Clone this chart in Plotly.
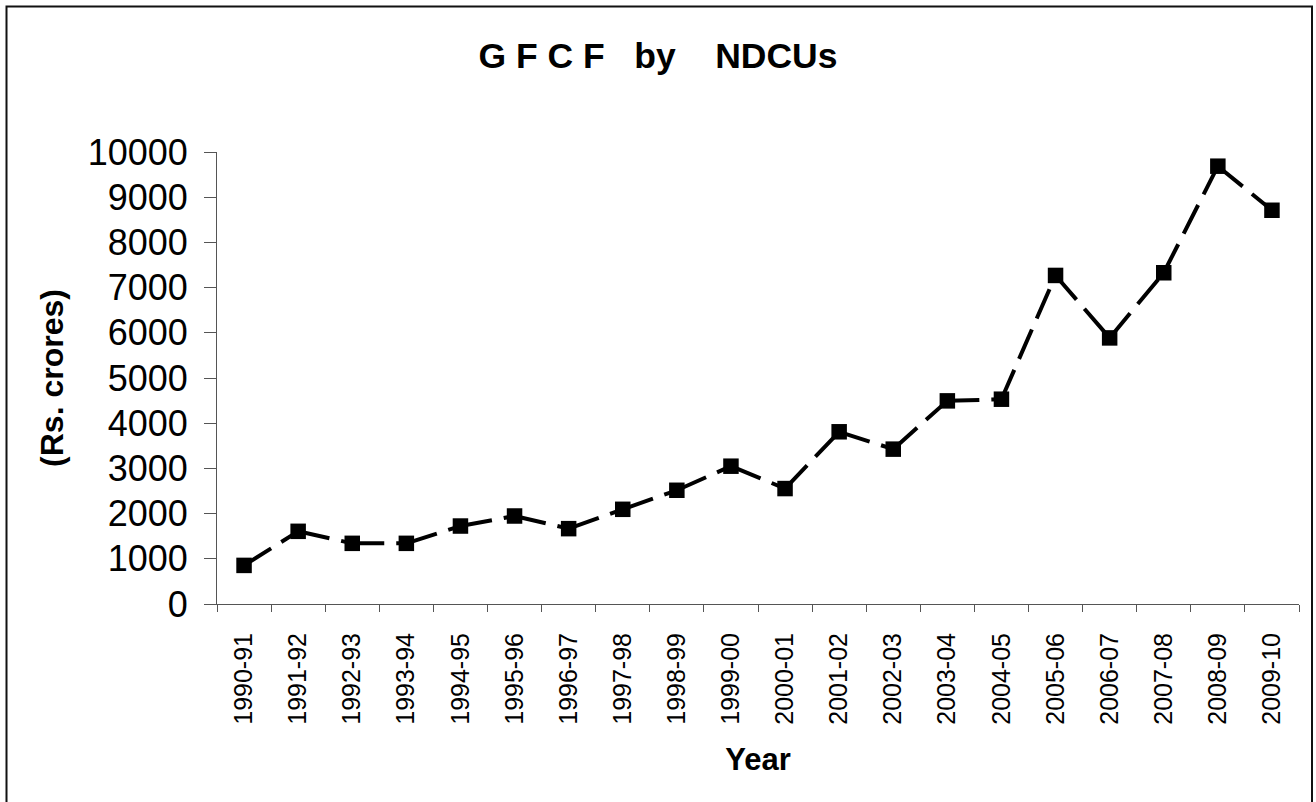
import plotly.graph_objects as go

# ---- data ----
years = ["1990-91", "1991-92", "1992-93", "1993-94", "1994-95", "1995-96",
         "1996-97", "1997-98", "1998-99", "1999-00", "2000-01", "2001-02",
         "2002-03", "2003-04", "2004-05", "2005-06", "2006-07", "2007-08",
         "2008-09", "2009-10"]
gfcf = [854, 1608, 1342, 1342, 1725, 1947, 1667, 2095, 2516, 3049,
        2554, 3810, 3426, 4494, 4531, 7269, 5887, 7328, 9686, 8711]
y_ticks = [0, 1000, 2000, 3000, 4000, 5000, 6000, 7000, 8000, 9000, 10000]

title_text = "G F C F   by    NDCUs"
x_title = "Year"
y_title = "(Rs. crores)"

FONT = "Liberation Sans, Arial, sans-serif"

fig = go.Figure()

# dashed line drawn segment by segment (dash pattern restarts at each point)
for i in range(len(years) - 1):
    fig.add_trace(go.Scatter(
        x=years[i:i + 2], y=gfcf[i:i + 2], mode="lines",
        line=dict(color="black", width=4, dash="32px,12px"),
        hoverinfo="skip", showlegend=False))

fig.add_trace(go.Scatter(
    x=years, y=gfcf, mode="markers",
    marker=dict(symbol="square", size=15.5, color="black"),
    showlegend=False, name="GFCF"))

fig.update_layout(
    width=1316, height=802,
    margin=dict(l=217, r=17, t=152, b=198),
    paper_bgcolor="white", plot_bgcolor="white",
    font=dict(family=FONT, color="black"),
    title=dict(text=f"<b>{title_text}</b>", x=0.5, xanchor="center",
               y=1 - 56 / 802, yanchor="middle", yref="container",
               font=dict(size=35.5, family=FONT, color="black")),
    showlegend=False,
)

fig.update_xaxes(
    type="category", categoryorder="array", categoryarray=years,
    range=[-0.5, len(years) - 0.5],
    showgrid=False, zeroline=False,
    showline=True, linecolor="#555555", linewidth=1,
    ticks="outside", tickson="boundaries", ticklen=7, tickcolor="#555555",
    tickangle=-90, tickfont=dict(size=25, family=FONT, color="black"),
    ticklabelstandoff=18,
    title=dict(text=f"<b>{x_title}</b>", font=dict(size=31, family=FONT, color="black"),
               standoff=24),
)

fig.update_yaxes(
    range=[0, 10000], tickvals=y_ticks, ticktext=[str(v) for v in y_ticks],
    showgrid=False, zeroline=False,
    showline=True, linecolor="#555555", linewidth=1,
    ticks="outside", ticklen=12, tickcolor="#555555",
    tickfont=dict(size=36, family=FONT, color="black"),
    ticklabelstandoff=9,
    title=dict(text=f"<b>{y_title}</b>", font=dict(size=32, family=FONT, color="black"),
               standoff=14),
)

# outer chart border
px_w = 1316 - 217 - 17
px_h = 802 - 152 - 198
fig.add_shape(type="rect", xref="paper", yref="paper",
              x0=(6.5 - 217) / px_w, x1=(1312 - 217) / px_w,
              y0=(604 - 830) / px_h, y1=(604 - 6.5) / px_h,
              line=dict(color="#111111", width=2), fillcolor="rgba(0,0,0,0)",
              layer="below")

fig.write_html("out.html",
               config={"displayModeBar": False},
               post_script="document.body.style.margin='0';document.body.style.overflow='hidden';")
